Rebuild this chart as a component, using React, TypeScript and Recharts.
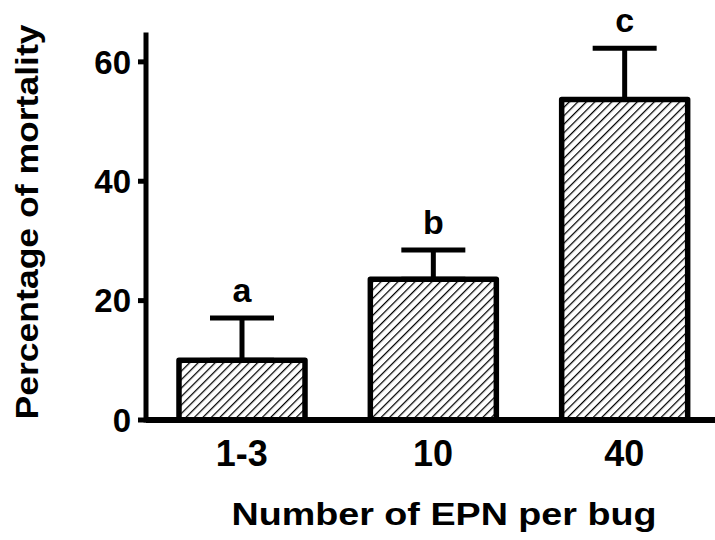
import { BarChart, Bar, XAxis, YAxis, ErrorBar, LabelList } from "recharts";

// Number of EPN per bug vs. % mortality (mean + SEM)
const groups = ["1-3", "10", "40"];
const mortality = [10, 23.6, 53.7];
const sem = [7.1, 4.9, 8.6];
const letters = ["a", "b", "c"];
const yTicks = [0, 20, 40, 60];

const data = groups.map((g, i) => ({
  group: g,
  mortality: mortality[i],
  err: [0, sem[i]],
  letter: letters[i],
}));

const FONT = "'Liberation Sans', Arial, sans-serif";

const renderLetter = (props: any) => {
  const { x, y, width, height, value, index } = props;
  // top of the error bar, from the bar's own pixel scale
  const pxPerUnit = height / mortality[index];
  const errTop = y - sem[index] * pxPerUnit;
  return (
    <text
      x={x + width / 2}
      y={errTop - 16}
      textAnchor="middle"
      fontFamily={FONT}
      fontWeight="bold"
      fontSize={34}
      fill="#000"
    >
      {value}
    </text>
  );
};

export default function App() {
  return (
    <div style={{ position: "absolute", left: 0, top: 0, width: 715, height: 540, overflow: "hidden", background: "#fff" }}>
      <BarChart width={720} height={540} data={data} margin={{ top: 35, right: 0, left: 0, bottom: 0 }}>
        <defs>
          <pattern id="hatch" patternUnits="userSpaceOnUse" width="6" height="6" patternTransform="rotate(45)">
            <rect width="6" height="6" fill="#fff" />
            <line x1="0" y1="0" x2="0" y2="6" stroke="#000" strokeWidth="2.5" />
          </pattern>
        </defs>
        <XAxis
          dataKey="group"
          height={120}
          axisLine={{ stroke: "#000", strokeWidth: 6 }}
          tickLine={false}
          tickSize={0}
          tickMargin={20}
          tick={{ fill: "#000", fontSize: 36, fontWeight: "bold", fontFamily: FONT }}
          label={{
            content: () => (
              <text
                x={444}
                y={525}
                textAnchor="middle"
                fontFamily={FONT}
                fontWeight="bold"
                fontSize={32}
                fill="#000"
                textLength={425}
                lengthAdjust="spacingAndGlyphs"
              >
                Number of EPN per bug
              </text>
            ),
          }}
        />
        <YAxis
          width={146}
          domain={[0, 64.5]}
          ticks={yTicks}
          axisLine={{ stroke: "#000", strokeWidth: 5, strokeLinecap: "square" }}
          tickLine={{ stroke: "#000", strokeWidth: 5 }}
          tickSize={8}
          tickMargin={7}
          tick={{ fill: "#000", fontSize: 33, fontWeight: "bold", fontFamily: FONT }}
          label={{
            content: () => (
              <text
                x={38}
                y={222}
                transform="rotate(-90, 38, 222)"
                textAnchor="middle"
                fontFamily={FONT}
                fontWeight="bold"
                fontSize={32}
                fill="#000"
                textLength={395}
                lengthAdjust="spacingAndGlyphs"
              >
                Percentage of mortality
              </text>
            ),
          }}
        />
        <Bar
          dataKey="mortality"
          barSize={126}
          fill="url(#hatch)"
          stroke="#000"
          strokeWidth={5.5}
          strokeLinejoin="round"
          isAnimationActive={false}
        >
          <ErrorBar dataKey="err" direction="y" width={32} stroke="#000" strokeWidth={5} />
          <LabelList dataKey="letter" content={renderLetter} />
        </Bar>
      </BarChart>
    </div>
  );
}
